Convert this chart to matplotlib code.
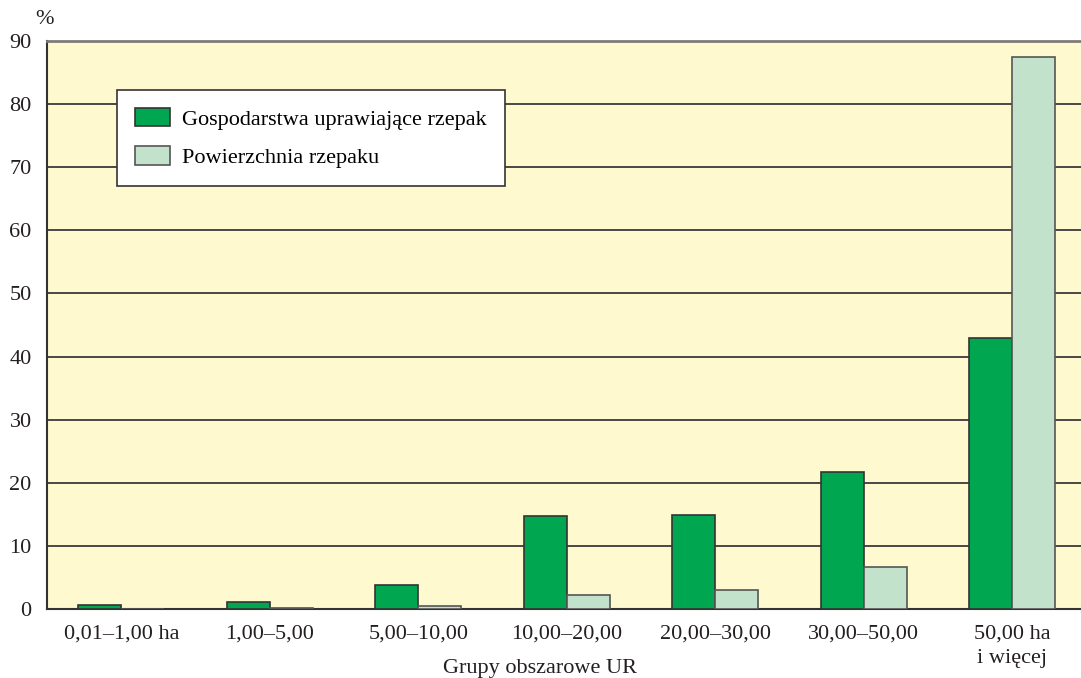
import matplotlib
matplotlib.use("Agg")
import matplotlib.pyplot as plt
import numpy as np
from matplotlib.patches import Patch

categories = ["0,01–1,00 ha", "1,00–5,00", "5,00–10,00", "10,00–20,00",
              "20,00–30,00", "30,00–50,00", "50,00 ha\ni więcej"]
gospodarstwa = [0.7, 1.1, 3.8, 14.7, 14.9, 21.7, 42.9]
powierzchnia = [0.0, 0.1, 0.5, 2.2, 3.0, 6.7, 87.5]
yticks = [0, 10, 20, 30, 40, 50, 60, 70, 80, 90]

plt.rcParams['font.family'] = ['Liberation Serif', 'DejaVu Serif']

W, H = 1081, 678
fig = plt.figure(figsize=(W/100, H/100), dpi=100)
left, right, top, bottom = 47, 1086.5, 41, 609
ax = fig.add_axes([left/W, 1-bottom/H, (right-left)/W, (bottom-top)/H])
ax.set_facecolor("#FFF9CF")

FS = 16
x = np.arange(len(categories))
w = 0.29
ax.set_axisbelow(True)
ax.grid(axis='y', color="#3a3a3a", linewidth=1.3)
ax.bar(x - w/2, gospodarstwa, width=w, color="#00A650", edgecolor="#333333", linewidth=1.2, zorder=3)
ax.bar(x + w/2, powierzchnia, width=w, color="#C2E2CB", edgecolor="#555555", linewidth=1.2, zorder=3)

ax.set_xlim(-0.5, len(categories) - 0.5)
ax.set_ylim(0, 90)
ax.set_yticks(yticks)
ax.set_yticklabels([str(v) for v in yticks], fontsize=FS, color="#231f20")
ax.set_xticks(x)
ax.set_xticklabels(categories, fontsize=FS, color="#231f20", linespacing=1.4)
ax.tick_params(axis='x', length=0, pad=11)
ax.tick_params(axis='y', length=0, pad=11)

ax.spines['right'].set_visible(False)
ax.spines['top'].set_color("#7f7b75")
ax.spines['top'].set_linewidth(2)
ax.spines['left'].set_color("#333333")
ax.spines['left'].set_linewidth(1.5)
ax.spines['bottom'].set_color("#333333")
ax.spines['bottom'].set_linewidth(1.5)

fig.text(44/W, 1-19/H, "%", fontsize=FS, ha='center', va='center', color="#231f20")
fig.text(540/W, 1-669/H, "Grupy obszarowe UR", fontsize=FS, ha='center', va='center', color="#231f20")

handles = [Patch(facecolor="#00A650", edgecolor="#333333", linewidth=1.2),
           Patch(facecolor="#C2E2CB", edgecolor="#555555", linewidth=1.2)]
leg = ax.legend(handles, ["Gospodarstwa uprawiające rzepak", "Powierzchnia rzepaku"],
                loc='upper left', bbox_to_anchor=((117-left)/(right-left), 1-(90-top)/(bottom-top)),
                fontsize=FS, frameon=True, fancybox=False, framealpha=1,
                edgecolor="#333333", borderpad=0.8, labelspacing=0.75,
                handlelength=1.58, handleheight=0.9, handletextpad=0.55, borderaxespad=0)
leg.get_frame().set_linewidth(1.2)

fig.savefig("out.png", dpi=100)
